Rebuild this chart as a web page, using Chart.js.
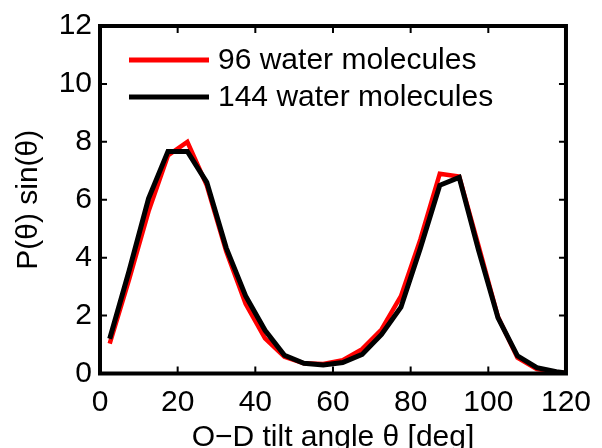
<!DOCTYPE html>
<html>
<head>
<meta charset="utf-8">
<script src="https://cdn.jsdelivr.net/npm/chart.js@4.4.1/dist/chart.umd.min.js"></script>
<style>
html,body{margin:0;padding:0;background:#fff;}
#wrap{width:602px;height:448px;}
</style>
</head>
<body>
<div id="wrap"><canvas id="c" width="602" height="448"></canvas></div>
<script>
// ---- data ----
const angles = [2.5, 7.5, 12.5, 17.5, 22.5, 27.5, 32.5, 37.5, 42.5, 47.5, 52.5, 57.5,
                62.5, 67.5, 72.5, 77.5, 82.5, 87.5, 92.5, 97.5, 102.5, 107.5, 112.5, 117.5, 120];
const water96 = [1.03, 3.25, 5.6, 7.53, 8.0, 6.5, 4.22, 2.41, 1.21, 0.58, 0.35, 0.33,
                 0.46, 0.84, 1.52, 2.67, 4.63, 6.9, 6.8, 4.4, 1.95, 0.55, 0.15, 0.05, 0.02];
const water144 = [1.2, 3.55, 6.04, 7.67, 7.67, 6.6, 4.34, 2.68, 1.49, 0.63, 0.35, 0.29,
                  0.38, 0.66, 1.35, 2.29, 4.33, 6.5, 6.77, 4.25, 1.92, 0.61, 0.2, 0.06, 0.02];
const seriesLabels = ["96 water molecules", "144 water molecules"];
const xTicks = [0, 20, 40, 60, 80, 100, 120];
const yTicks = [0, 2, 4, 6, 8, 10, 12];
const xTitle = "O\u2212D tilt angle \u03b8 [deg]";
const yTitle = "P(\u03b8) sin(\u03b8)";

const FONT = "'Liberation Sans', Arial, Helvetica, sans-serif";
const FS = 30;

const frame = {
  id: 'frame',
  afterDraw(chart) {
    const ctx = chart.ctx, a = chart.chartArea;
    const xs = chart.scales.x, ys = chart.scales.y;
    ctx.save();
    ctx.strokeStyle = '#000';
    // inner ticks
    ctx.lineWidth = 2;
    ctx.beginPath();
    xTicks.slice(1, -1).forEach(v => {
      const px = xs.getPixelForValue(v);
      ctx.moveTo(px, a.bottom); ctx.lineTo(px, a.bottom - 7);
      ctx.moveTo(px, a.top); ctx.lineTo(px, a.top + 7);
    });
    yTicks.slice(1, -1).forEach(v => {
      const py = ys.getPixelForValue(v);
      ctx.moveTo(a.left, py); ctx.lineTo(a.left + 7, py);
      ctx.moveTo(a.right, py); ctx.lineTo(a.right - 7, py);
    });
    ctx.stroke();
    // box
    ctx.lineWidth = 4;
    ctx.strokeRect(a.left, a.top, a.right - a.left, a.bottom - a.top);
    // legend
    const ds = chart.data.datasets;
    const rows = [60, 97];
    [0, 1].forEach(i => {
      ctx.strokeStyle = ds[i].borderColor;
      ctx.lineWidth = 5;
      ctx.beginPath();
      ctx.moveTo(129, rows[i]); ctx.lineTo(209, rows[i]);
      ctx.stroke();
      ctx.fillStyle = '#000';
      ctx.font = FS + 'px ' + FONT;
      ctx.textAlign = 'left';
      ctx.textBaseline = 'middle';
      ctx.fillText(ds[i].label, 218, rows[i] + 1);
    });
    // axis titles
    ctx.fillStyle = '#000';
    ctx.font = FS + 'px ' + FONT;
    ctx.textAlign = 'center';
    ctx.textBaseline = 'alphabetic';
    ctx.fillText(xTitle, (a.left + a.right) / 2, 446);
    ctx.translate(37, (a.top + a.bottom) / 2);
    ctx.rotate(-Math.PI / 2);
    ctx.fillText(yTitle, 0, 0);
    ctx.restore();
  }
};

new Chart(document.getElementById('c'), {
  type: 'line',
  data: {
    datasets: [
      { label: seriesLabels[0], data: angles.map((x, i) => ({x, y: water96[i]})),
        borderColor: '#ff0000', borderWidth: 4.5, pointRadius: 0, tension: 0, order: 2 },
      { label: seriesLabels[1], data: angles.map((x, i) => ({x, y: water144[i]})),
        borderColor: '#000000', borderWidth: 5, pointRadius: 0, tension: 0, order: 1 }
    ]
  },
  options: {
    responsive: false,
    animation: false,
    devicePixelRatio: 1,
    layout: { padding: { left: 0, top: 22.5, right: 27, bottom: 0 } },
    plugins: { legend: { display: false }, tooltip: { enabled: false } },
    scales: {
      x: {
        type: 'linear', min: 0, max: 120,
        afterBuildTicks: s => { s.ticks = xTicks.map(v => ({value: v})); },
        afterFit: s => { s.height = 74.5; },
        grid: { display: false, drawTicks: false },
        border: { display: false },
        ticks: { font: { size: FS, family: FONT }, color: '#000', padding: 11, maxRotation: 0, autoSkip: false }
      },
      y: {
        type: 'linear', min: 0, max: 12,
        afterBuildTicks: s => { s.ticks = yTicks.map(v => ({value: v})); },
        afterFit: s => { s.width = 100; },
        grid: { display: false, drawTicks: false },
        border: { display: false },
        ticks: { font: { size: FS, family: FONT }, color: '#000', padding: 8 }
      }
    }
  },
  plugins: [frame]
});
</script>
</body>
</html>
